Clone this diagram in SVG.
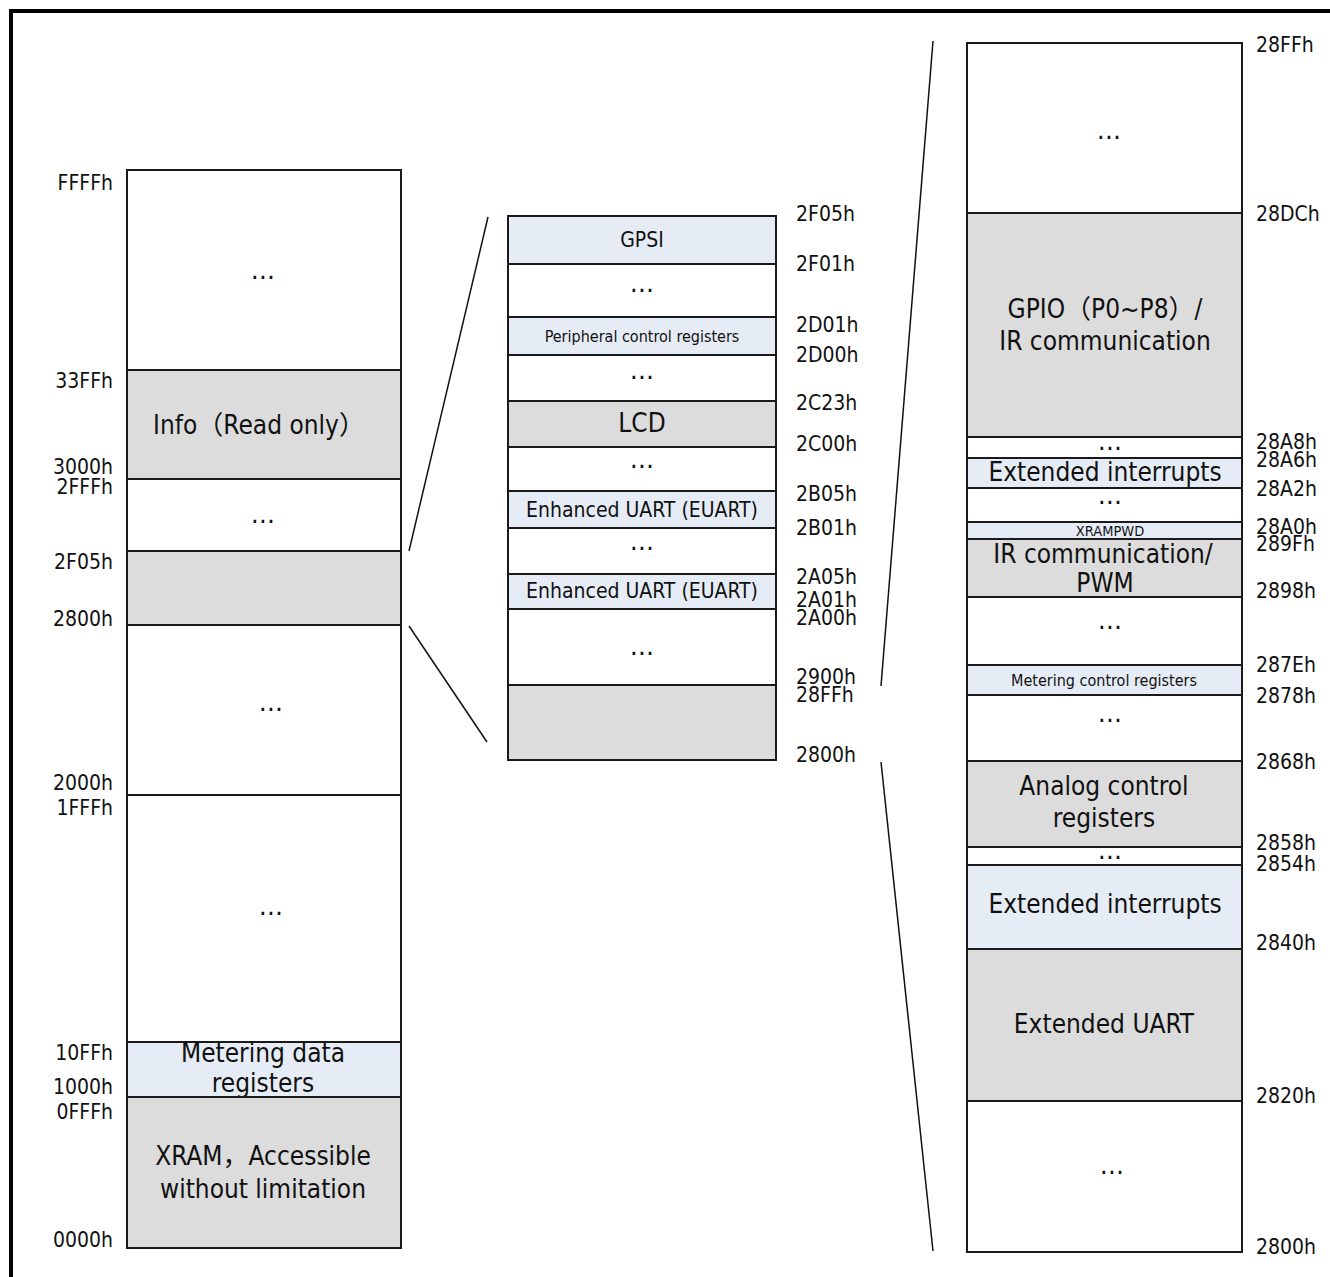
<svg xmlns="http://www.w3.org/2000/svg" width="1330" height="1277" viewBox="0 0 1330 1277">
<style>
  text { font-family: "DejaVu Sans Condensed", "DejaVu Sans", "Noto Sans CJK SC", sans-serif; font-stretch: condensed; fill: #111; }
  .cell rect { stroke: #1a1a1a; stroke-width: 2; }
  .w { fill: #ffffff; }
  .g { fill: #dcdcdc; }
  .b { fill: #e6ecf6; }
  .t { font-size: 26px; text-anchor: middle; }
  .e { font-size: 27px; text-anchor: middle; }
  .m { font-size: 21px; text-anchor: middle; }
  .s { font-size: 16px; text-anchor: middle; }
  .xs { font-size: 14.5px; text-anchor: middle; }
  .a { font-size: 21px; }
  .al { text-anchor: end; }
  .conn line { stroke: #111; stroke-width: 1.5; }
</style>
<rect x="0" y="0" width="1330" height="1277" fill="#ffffff"/>
<rect x="11" y="11" width="1340" height="1300" fill="none" stroke="#000" stroke-width="4"/>

<!-- Left column -->
<g id="left-col">
  <g id="L1" class="cell"><rect class="w" x="127" y="170" width="274" height="200"/><text class="e" x="263" y="279">…</text></g>
  <g id="L2" class="cell"><rect class="g" x="127" y="370" width="274" height="109"/><text class="t" x="259" y="434">Info（Read only）</text></g>
  <g id="L3" class="cell"><rect class="w" x="127" y="479" width="274" height="72"/><text class="e" x="263" y="523">…</text></g>
  <g id="L4" class="cell"><rect class="g" x="127" y="551" width="274" height="74"/></g>
  <g id="L5" class="cell"><rect class="w" x="127" y="625" width="274" height="170"/><text class="e" x="271" y="711">…</text></g>
  <g id="L6" class="cell"><rect class="w" x="127" y="795" width="274" height="247"/><text class="e" x="271" y="915">…</text></g>
  <g id="L7" class="cell"><rect class="b" x="127" y="1042" width="274" height="55"/><text class="t" x="263" y="1062">Metering data</text><text class="t" x="263" y="1092">registers</text></g>
  <g id="L8" class="cell"><rect class="g" x="127" y="1097" width="274" height="151"/><text class="t" x="263" y="1165">XRAM，Accessible</text><text class="t" x="263" y="1198">without limitation</text></g>
</g>
<g id="left-labels">
  <text class="a al" x="113" y="190">FFFFh</text>
  <text class="a al" x="113" y="388">33FFh</text>
  <text class="a al" x="113" y="474">3000h</text>
  <text class="a al" x="113" y="494">2FFFh</text>
  <text class="a al" x="113" y="569">2F05h</text>
  <text class="a al" x="113" y="626">2800h</text>
  <text class="a al" x="113" y="790">2000h</text>
  <text class="a al" x="113" y="815">1FFFh</text>
  <text class="a al" x="113" y="1060">10FFh</text>
  <text class="a al" x="113" y="1094">1000h</text>
  <text class="a al" x="113" y="1119">0FFFh</text>
  <text class="a al" x="113" y="1247">0000h</text>
</g>

<!-- Middle column -->
<g id="mid-col">
  <g id="M1" class="cell"><rect class="b" x="508" y="216" width="268" height="48"/><text class="m" x="642" y="247">GPSI</text></g>
  <g id="M2" class="cell"><rect class="w" x="508" y="264" width="268" height="53"/><text class="e" x="642" y="292">…</text></g>
  <g id="M3" class="cell"><rect class="b" x="508" y="317" width="268" height="38"/><text class="s" x="642" y="342">Peripheral control registers</text></g>
  <g id="M4" class="cell"><rect class="w" x="508" y="355" width="268" height="46"/><text class="e" x="642" y="379">…</text></g>
  <g id="M5" class="cell"><rect class="g" x="508" y="401" width="268" height="46"/><text class="t" x="642" y="432">LCD</text></g>
  <g id="M6" class="cell"><rect class="w" x="508" y="447" width="268" height="44"/><text class="e" x="642" y="468">…</text></g>
  <g id="M7" class="cell"><rect class="b" x="508" y="491" width="268" height="37"/><text class="m" x="642" y="517">Enhanced UART (EUART)</text></g>
  <g id="M8" class="cell"><rect class="w" x="508" y="528" width="268" height="46"/><text class="e" x="642" y="550">…</text></g>
  <g id="M9" class="cell"><rect class="b" x="508" y="574" width="268" height="35"/><text class="m" x="642" y="598">Enhanced UART (EUART)</text></g>
  <g id="M10" class="cell"><rect class="w" x="508" y="609" width="268" height="76"/><text class="e" x="642" y="655">…</text></g>
  <g id="M11" class="cell"><rect class="g" x="508" y="685" width="268" height="75"/></g>
</g>
<g id="mid-labels">
  <text class="a" x="796" y="221">2F05h</text>
  <text class="a" x="796" y="271">2F01h</text>
  <text class="a" x="796" y="332">2D01h</text>
  <text class="a" x="796" y="362">2D00h</text>
  <text class="a" x="796" y="410">2C23h</text>
  <text class="a" x="796" y="451">2C00h</text>
  <text class="a" x="796" y="501">2B05h</text>
  <text class="a" x="796" y="535">2B01h</text>
  <text class="a" x="796" y="584">2A05h</text>
  <text class="a" x="796" y="607">2A01h</text>
  <text class="a" x="796" y="625">2A00h</text>
  <text class="a" x="796" y="684">2900h</text>
  <text class="a" x="796" y="702">28FFh</text>
  <text class="a" x="796" y="762">2800h</text>
</g>

<!-- Right column -->
<g id="right-col">
  <g id="R1" class="cell"><rect class="w" x="967" y="43" width="275" height="170"/><text class="e" x="1109" y="139">…</text></g>
  <g id="R2" class="cell"><rect class="g" x="967" y="213" width="275" height="224"/><text class="t" x="1105" y="318">GPIO（P0~P8）/</text><text class="t" x="1105" y="350">IR communication</text></g>
  <g id="R3" class="cell"><rect class="w" x="967" y="437" width="275" height="21"/><text class="e" x="1110" y="450">…</text></g>
  <g id="R4" class="cell"><rect class="b" x="967" y="458" width="275" height="30"/><text class="t" x="1105" y="481">Extended interrupts</text></g>
  <g id="R5" class="cell"><rect class="w" x="967" y="488" width="275" height="34"/><text class="e" x="1110" y="504">…</text></g>
  <g id="R6" class="cell"><rect class="b" x="967" y="522" width="275" height="17"/><text class="xs" x="1110" y="536">XRAMPWD</text></g>
  <g id="R7" class="cell"><rect class="g" x="967" y="539" width="275" height="58"/><text class="t" x="1103" y="563">IR communication/</text><text class="t" x="1105" y="592">PWM</text></g>
  <g id="R8" class="cell"><rect class="w" x="967" y="597" width="275" height="68"/><text class="e" x="1110" y="629">…</text></g>
  <g id="R9" class="cell"><rect class="b" x="967" y="665" width="275" height="30"/><text class="s" x="1104" y="686">Metering control registers</text></g>
  <g id="R10" class="cell"><rect class="w" x="967" y="695" width="275" height="66"/><text class="e" x="1110" y="722">…</text></g>
  <g id="R11" class="cell"><rect class="g" x="967" y="761" width="275" height="86"/><text class="t" x="1104" y="795">Analog control</text><text class="t" x="1104" y="827">registers</text></g>
  <g id="R12" class="cell"><rect class="w" x="967" y="847" width="275" height="18"/><text class="e" x="1110" y="859">…</text></g>
  <g id="R13" class="cell"><rect class="b" x="967" y="865" width="275" height="84"/><text class="t" x="1105" y="913">Extended interrupts</text></g>
  <g id="R14" class="cell"><rect class="g" x="967" y="949" width="275" height="152"/><text class="t" x="1104" y="1033">Extended UART</text></g>
  <g id="R15" class="cell"><rect class="w" x="967" y="1101" width="275" height="151"/><text class="e" x="1112" y="1174">…</text></g>
</g>
<g id="right-labels">
  <text class="a" x="1256" y="52">28FFh</text>
  <text class="a" x="1256" y="221">28DCh</text>
  <text class="a" x="1256" y="449">28A8h</text>
  <text class="a" x="1256" y="467">28A6h</text>
  <text class="a" x="1256" y="496">28A2h</text>
  <text class="a" x="1256" y="534">28A0h</text>
  <text class="a" x="1256" y="551">289Fh</text>
  <text class="a" x="1256" y="598">2898h</text>
  <text class="a" x="1256" y="672">287Eh</text>
  <text class="a" x="1256" y="703">2878h</text>
  <text class="a" x="1256" y="769">2868h</text>
  <text class="a" x="1256" y="850">2858h</text>
  <text class="a" x="1256" y="871">2854h</text>
  <text class="a" x="1256" y="950">2840h</text>
  <text class="a" x="1256" y="1103">2820h</text>
  <text class="a" x="1256" y="1254">2800h</text>
</g>

<!-- Connectors -->
<g id="connectors" class="conn">
  <line x1="409" y1="551" x2="488" y2="217"/>
  <line x1="409" y1="626" x2="487" y2="742"/>
  <line x1="881" y1="686" x2="933" y2="41"/>
  <line x1="881" y1="762" x2="933" y2="1251"/>
</g>
</svg>
